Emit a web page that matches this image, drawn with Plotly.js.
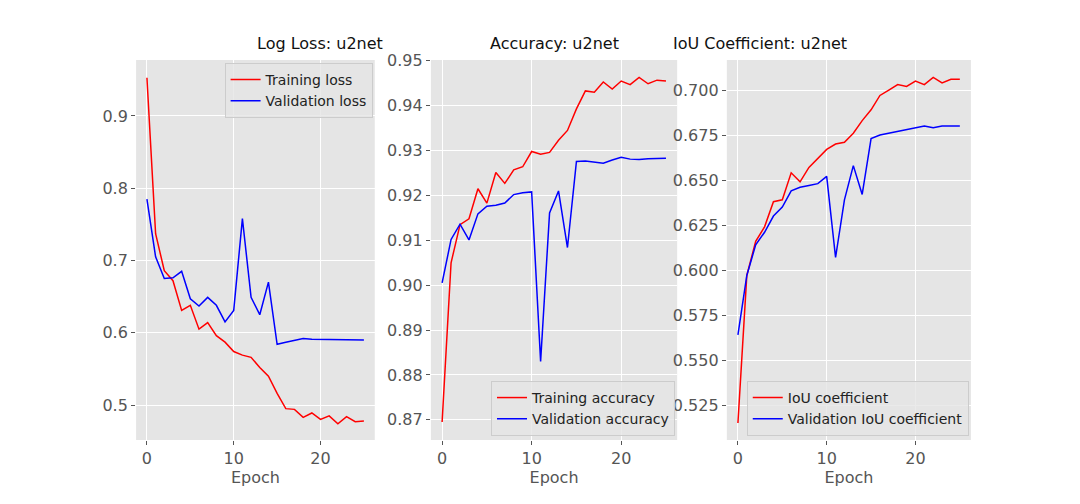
<!DOCTYPE html>
<html><head><meta charset="utf-8">
<script src="https://cdn.plot.ly/plotly-3.0.1.min.js"></script>
<style>body{margin:0}#plot{width:1080px;height:504px}</style>
</head><body><div id="plot"></div>
<script>
const epochs = Array.from({length: 26}, (_, i) => i);
const trainLoss = [0.953,0.737,0.686,0.672,0.631,0.638,0.605,0.614,0.596,0.587,0.574,0.569,0.566,0.552,0.540,0.516,0.495,0.494,0.483,0.489,0.480,0.485,0.474,0.484,0.477,0.478];
const valLoss = [0.785,0.705,0.675,0.676,0.685,0.647,0.637,0.649,0.638,0.615,0.631,0.758,0.649,0.625,0.670,0.584,0.587,0.589,0.592,0.591,0.591,0.590,0.590,0.590,0.590,0.590];
const trainAcc = [0.8695,0.905,0.9135,0.9148,0.9215,0.9183,0.9251,0.9227,0.9257,0.9264,0.9298,0.9292,0.9296,0.9323,0.9345,0.9393,0.9433,0.9430,0.9453,0.9437,0.9455,0.9447,0.9463,0.9449,0.9457,0.9455];
const valAcc = [0.9005,0.9102,0.9136,0.9101,0.9159,0.9176,0.9178,0.9183,0.9202,0.9206,0.9208,0.8830,0.9161,0.9210,0.9084,0.9276,0.9277,0.9275,0.9272,0.9279,0.9285,0.9281,0.9280,0.9282,0.9282,0.9283];
const trainIou = [0.515,0.597,0.616,0.624,0.638,0.639,0.654,0.649,0.657,0.662,0.667,0.670,0.671,0.676,0.683,0.689,0.697,0.700,0.703,0.702,0.705,0.703,0.707,0.704,0.706,0.706];
const valIou = [0.564,0.597,0.614,0.621,0.630,0.635,0.644,0.646,0.647,0.648,0.652,0.607,0.639,0.658,0.642,0.673,0.675,0.676,0.677,0.678,0.679,0.680,0.679,0.680,0.680,0.680];

const ln = c => ({color: c, width: 1.5});
const traces = [
  {x: epochs, y: trainLoss, name: 'Training loss', line: ln('red'), xaxis: 'x', yaxis: 'y', legend: 'legend'},
  {x: epochs, y: valLoss, name: 'Validation loss', line: ln('blue'), xaxis: 'x', yaxis: 'y', legend: 'legend'},
  {x: epochs, y: trainAcc, name: 'Training accuracy', line: ln('red'), xaxis: 'x2', yaxis: 'y2', legend: 'legend2'},
  {x: epochs, y: valAcc, name: 'Validation accuracy', line: ln('blue'), xaxis: 'x2', yaxis: 'y2', legend: 'legend2'},
  {x: epochs, y: trainIou, name: 'IoU coefficient', line: ln('red'), xaxis: 'x3', yaxis: 'y3', legend: 'legend3'},
  {x: epochs, y: valIou, name: 'Validation IoU coefficient', line: ln('blue'), xaxis: 'x3', yaxis: 'y3', legend: 'legend3'}
].map(t => Object.assign({type: 'scatter', mode: 'lines'}, t));

const tickFont = {size: 16, color: '#555'};
const xax = (d, a) => ({domain: d, anchor: a, range: [-1.25, 26.25], tickvals: [0, 10, 20],
  gridcolor: 'white', zeroline: false, tickfont: tickFont, ticks: 'outside', tickcolor: '#555', ticklen: 4,
  title: {text: 'Epoch', font: {size: 16, color: '#555'}, standoff: 2}});
const yax = (a, r, dt, fmt) => ({domain: [0.127, 0.881], anchor: a, range: r, dtick: dt, tickformat: fmt,
  gridcolor: 'white', zeroline: false, tickfont: tickFont, ticks: 'outside', tickcolor: '#555', ticklen: 4});
const leg = (x, y, ya) => ({x: x, y: y, xanchor: 'right', yanchor: ya, bgcolor: 'rgba(229,229,229,0.8)',
  bordercolor: '#ccc', borderwidth: 1, font: {size: 14, color: '#222'}, tracegroupgap: 0});
const title = (x, t) => ({text: t, x: x, y: 0.89, xref: 'paper', yref: 'paper', showarrow: false,
  yanchor: 'bottom', font: {size: 16, color: '#111'}});

const layout = {
  width: 1080, height: 504, margin: {l: 0, r: 0, t: 0, b: 0},
  paper_bgcolor: 'white', plot_bgcolor: '#e5e5e5',
  font: {family: 'DejaVu Sans'}, showlegend: true,
  xaxis: xax([0.126, 0.347], 'y'), yaxis: yax('x', [0.4516, 0.9775], 0.1, '.1f'),
  xaxis2: xax([0.399, 0.627], 'y2'), yaxis2: yax('x2', [0.8655, 0.9502], 0.01, '.2f'),
  xaxis3: xax([0.673, 0.899], 'y3'), yaxis3: yax('x3', [0.5056, 0.7167], 0.025, '.3f'),
  legend: leg(0.345, 0.875, 'top'),
  legend2: leg(0.625, 0.135, 'bottom'),
  legend3: leg(0.897, 0.135, 'bottom'),
  annotations: [title(0.2365, 'Log Loss: u2net'), title(0.513, 'Accuracy: u2net'), title(0.786, 'IoU Coefficient: u2net')]
};
Plotly.newPlot('plot', traces, layout, {staticPlot: true});
</script></body></html>
